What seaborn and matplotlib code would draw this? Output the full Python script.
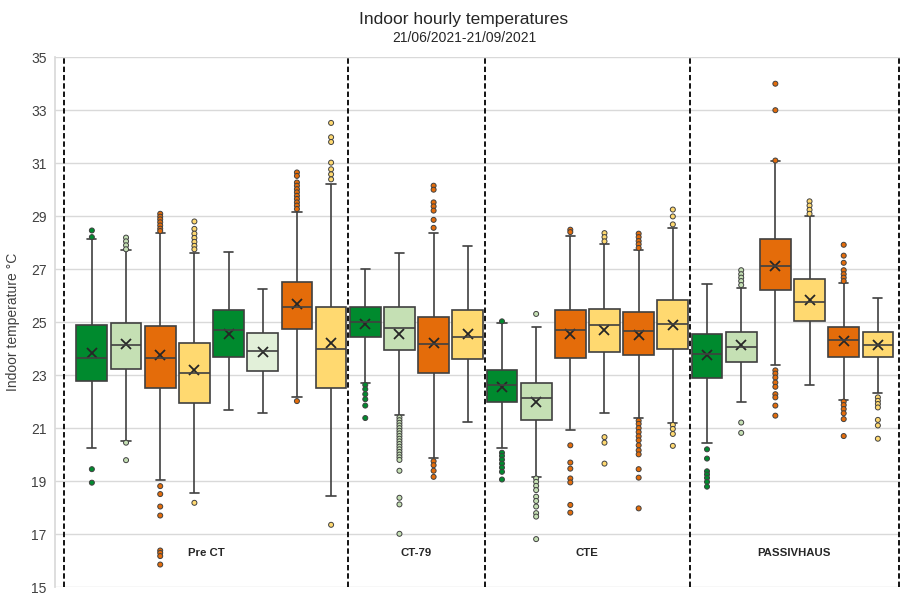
import matplotlib
matplotlib.use("Agg")
import matplotlib.pyplot as plt
import numpy as np
import pandas as pd
import seaborn as sns

sns.set_theme(style="whitegrid")
plt.rcParams["font.family"] = ["Liberation Sans", "DejaVu Sans"]

# ---- data ----
groups = ["Pre CT", "CT-79", "CTE", "PASSIVHAUS"]
group_sizes = [8, 4, 6, 6]

box_colors = ["#008A2E", "#C5E0B4", "#E46C0A", "#FFD970",
              "#008A2E", "#E2F0D9", "#E46C0A", "#FFD970",
              "#008A2E", "#C5E0B4", "#E46C0A", "#FFD970",
              "#008A2E", "#C5E0B4", "#E46C0A", "#FFD970", "#E46C0A", "#FFD970",
              "#008A2E", "#C5E0B4", "#E46C0A", "#FFD970", "#E46C0A", "#FFD970"]

whisker_lo = [20.25, 20.51, 19.06, 18.55, 21.67, 21.57, 22.16, 18.45,
              22.72, 21.51, 19.87, 21.22,
              20.25, 19.16, 20.93, 21.57, 21.38, 21.18,
              20.45, 22.00, 23.37, 22.63, 22.07, 22.32]
q1 = [22.77, 23.24, 22.52, 21.93, 23.69, 23.16, 24.75, 22.52,
      24.44, 23.94, 23.09, 23.62,
      21.97, 21.32, 23.63, 23.87, 23.76, 23.99,
      22.91, 23.51, 26.21, 25.03, 23.69, 23.69]
median = [23.64, 24.15, 23.64, 23.09, 24.69, 23.90, 25.57, 23.97,
          24.99, 24.77, 24.18, 24.44,
          22.63, 22.12, 24.69, 24.88, 24.68, 24.94,
          23.81, 24.06, 27.11, 25.75, 24.32, 24.15]
q3 = [24.88, 24.98, 24.84, 24.22, 25.46, 24.60, 26.53, 25.59,
      25.59, 25.59, 25.19, 25.46,
      23.18, 22.72, 25.46, 25.50, 25.37, 25.84,
      24.57, 24.63, 28.15, 26.61, 24.80, 24.62]
whisker_hi = [28.15, 27.71, 28.36, 27.60, 27.65, 26.25, 29.17, 30.21,
              26.99, 27.61, 28.36, 27.88,
              24.98, 24.80, 28.24, 27.94, 27.71, 28.55,
              26.44, 26.28, 31.08, 29.02, 26.46, 25.93]
means = [23.84, 24.17, 23.76, 23.19, 24.57, 23.87, 25.68, 24.22,
         24.94, 24.55, 24.20, 24.57,
         22.57, 22.00, 24.55, 24.72, 24.50, 24.88,
         23.76, 24.13, 27.11, 25.84, 24.30, 24.12]

outliers = [
    [28.46, 28.21, 19.45, 18.94],
    [28.19, 28.05, 27.90, 27.75, 20.45, 19.79],
    [29.09, 28.98, 28.88, 28.77, 28.65, 28.53, 28.44, 18.81, 18.51, 18.04, 17.70, 16.38, 16.29, 16.17, 15.85],
    [28.80, 28.52, 28.34, 28.18, 28.03, 27.88, 27.75, 18.18],
    [],
    [],
    [30.65, 30.52, 30.27, 30.15, 30.02, 29.90, 29.77, 29.65, 29.52, 29.40, 29.27, 22.02],
    [32.52, 31.98, 31.80, 31.02, 30.77, 30.58, 30.39, 17.35],
    [22.63, 22.47, 22.28, 22.09, 21.85, 21.38],
    [21.40, 21.30, 21.20, 21.10, 21.00, 20.90, 20.80, 20.70, 20.60, 20.50, 20.40, 20.30, 20.20,
     20.10, 20.00, 19.90, 19.80, 19.39, 18.37, 18.12, 17.01],
    [30.15, 30.00, 29.52, 29.37, 29.21, 28.86, 28.56, 19.75, 19.60, 19.39, 19.16],
    [],
    [25.03, 20.07, 19.95, 19.81, 19.66, 19.51, 19.35, 19.06],
    [25.31, 19.10, 18.97, 18.82, 18.66, 18.41, 18.25, 18.04, 17.79, 17.66, 16.81],
    [28.49, 28.40, 20.35, 19.70, 19.47, 19.10, 18.95, 18.10, 17.81],
    [28.36, 28.21, 28.05, 20.66, 20.45, 19.66],
    [28.34, 28.21, 28.06, 27.94, 27.80, 21.28, 21.16, 21.00, 20.85, 20.69, 20.54, 20.35, 20.16,
     20.01, 19.45, 19.13, 17.97],
    [29.25, 28.99, 28.69, 21.12, 20.97, 20.78, 20.33],
    [20.20, 19.85, 19.37, 19.25, 19.12, 18.97, 18.79],
    [26.96, 26.81, 26.68, 26.55, 26.40, 21.21, 20.82],
    [34.00, 33.00, 31.10, 23.18, 23.06, 22.91, 22.72, 22.56, 22.28, 22.16, 21.85, 21.47],
    [29.56, 29.40, 29.24, 29.09],
    [27.92, 27.51, 27.24, 26.96, 26.81, 26.68, 26.55, 22.00, 21.87, 21.72, 21.56, 21.34, 20.70],
    [22.16, 22.03, 21.91, 21.78, 21.31, 21.10, 20.60],
]

# ---- build long tables ----
box_ids = [f"b{i:02d}" for i in range(len(box_colors))]
palette = dict(zip(box_ids, box_colors))

stats_rows = []
for i, b in enumerate(box_ids):
    for v in (whisker_lo[i], q1[i], median[i], q3[i], whisker_hi[i]):
        stats_rows.append({"box": b, "temp": v})
stats_df = pd.DataFrame(stats_rows)

out_df = pd.DataFrame([{"box": b, "temp": v}
                       for b, vals in zip(box_ids, outliers) for v in vals])
mean_df = pd.DataFrame({"box": box_ids, "temp": means})

fig = plt.figure(figsize=(9.01, 5.96), dpi=100)
ax = fig.add_axes([0.061, 0.015, 0.938, 0.889])

# five-number summaries -> whiskers to min/max of the summary values
sns.boxplot(data=stats_df, x="box", y="temp", hue="box", order=box_ids,
            palette=palette, legend=False, saturation=1, width=0.9,
            whis=(0, 100), linecolor="#404040", linewidth=1.2,
            fliersize=0, capwidths=0.27, ax=ax)

sns.stripplot(data=out_df, x="box", y="temp", hue="box", order=box_ids,
              palette=palette, legend=False, jitter=False, size=3.6,
              linewidth=0.7, edgecolor="#404040", zorder=4, ax=ax)

sns.pointplot(data=mean_df, x="box", y="temp", order=box_ids,
              linestyle="none", marker="x", color="#262626",
              markersize=7, markeredgewidth=1.3, errorbar=None, ax=ax)

# group separators and labels
edges = np.cumsum([0] + group_sizes) - 0.5
edges[0] = -0.82
edges[-1] = 23.62
for e in edges:
    ax.axvline(e, color="black", linestyle=(0, (3, 1.6)), linewidth=1.3, zorder=5)
for g, lo, hi in zip(groups, edges[:-1], edges[1:]):
    ax.text((lo + hi) / 2, 16.28, g, ha="center", va="center",
            fontsize=8.2, fontweight="bold", color="#262626")

ax.set_xlim(-1.08, 23.65)
ax.set_ylim(15, 35)
ax.set_yticks(np.arange(15, 36, 2))
ax.set_xticks([])
ax.set_xlabel("")
ax.set_ylabel("Indoor temperature °C", fontsize=10, color="#404040", labelpad=8)
ax.tick_params(axis="y", labelsize=10, labelcolor="#404040", length=0, pad=6)
ax.grid(axis="y", color="#d9d9d9", linewidth=1)
ax.grid(axis="x", visible=False)
for side in ["top", "right", "bottom"]:
    ax.spines[side].set_visible(False)
ax.spines["left"].set_color("#d9d9d9")

fig.text(0.515, 0.968, "Indoor hourly temperatures", ha="center", va="center",
         fontsize=12.5, color="#262626")
fig.text(0.515, 0.936, "21/06/2021-21/09/2021", ha="center", va="center",
         fontsize=10, color="#262626")

fig.savefig("out.png", dpi=100)
